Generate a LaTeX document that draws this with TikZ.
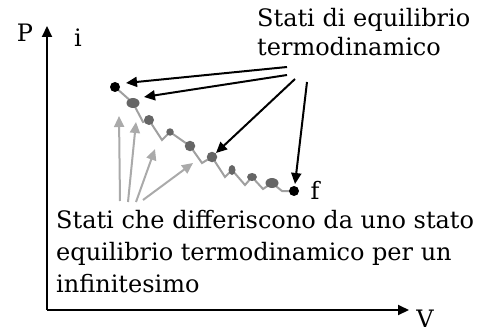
\documentclass[tikz,border=0pt]{standalone}
\usepackage{fontspec}
\setmainfont{DejaVu Serif}
\usetikzlibrary{arrows.meta,shapes.geometric}
\definecolor{dotgray}{HTML}{666666}
\definecolor{linegray}{HTML}{A0A0A0}
\definecolor{arrgray}{HTML}{AAAAAA}
\tikzset{
  axis/.style={line width=2pt,-{Triangle[length=11pt,width=10pt]}},
  blackarrow/.style={line width=2pt,-{Triangle[length=11pt,width=10pt]}},
  grayarrow/.style={line width=2pt,arrgray,-{Triangle[length=11pt,width=10pt]}},
  pathline/.style={line width=2pt,linegray},
  eqdot/.style={circle,fill=black,inner sep=0pt,minimum size=10pt},
  gdot/.style={ellipse,fill=dotgray,inner sep=0pt},
  lbl/.style={font=\fontsize{24}{24}\selectfont,inner sep=0pt},
  txt/.style={font=\fontsize{24}{29}\selectfont,inner sep=0pt,align=left,anchor=base west}
}
\begin{document}
\begin{tikzpicture}[x=1pt,y=-1pt]
\useasboundingbox (0,0) rectangle (481,334);
% axes
\coordinate (O) at (47,310);
\coordinate (ytip) at (47,26);
\coordinate (xtip) at (409,310);
\draw[axis] (O) -- (ytip);
\draw[axis] (O) -- (xtip);
\node[lbl] (P) at (25,33) {P};
\node[lbl] (i) at (78,38) {i};
\node[lbl] (V) at (425,319) {V};
\node[lbl] (f) at (315,190) {f};
% path
\draw[pathline] (115,87) -- (133,103) -- (143,122) -- (149,120) -- (162,140) -- (170,132)
  -- (190,146) -- (202,163) -- (212,157) -- (225,177) -- (232,170) -- (245,185)
  -- (252,177) -- (263,189) -- (272,183) -- (282,191) -- (294,191);
\node[eqdot] (si) at (115,87) {};
\node[gdot,minimum width=13pt,minimum height=10pt] (g1) at (133,103) {};
\node[gdot,minimum width=10pt,minimum height=10pt] (g2) at (149,120) {};
\node[gdot,minimum width=7.5pt,minimum height=7.5pt] (g3) at (170,132) {};
\node[gdot,minimum width=10.5pt,minimum height=10.5pt] (g4) at (190,146) {};
\node[gdot,minimum width=10.5pt,minimum height=10.5pt] (g5) at (212,157) {};
\node[gdot,minimum width=7pt,minimum height=10pt] (g6) at (232,170) {};
\node[gdot,minimum width=10pt,minimum height=8pt] (g7) at (252,177) {};
\node[gdot,minimum width=13pt,minimum height=10pt] (g8) at (272,183) {};
\node[eqdot] (sf) at (294,191) {};
% texts
\node[txt] (top) at (257,56) {Stati di equilibrio\\termodinamico};
\node[txt,font=\fontsize{24}{32}\selectfont] (bot) at (56,292) {Stati che differiscono da uno stato\\equilibrio termodinamico per un\\infinitesimo};
% black arrows
\coordinate (b1s) at (287,67);
\coordinate (b1e) at (126,83);
\coordinate (b2s) at (287,75);
\coordinate (b2e) at (144,97);
\coordinate (b3s) at (295,79);
\coordinate (b3e) at (216,153);
\coordinate (b4s) at (307,82);
\coordinate (b4e) at (295,184);
\draw[blackarrow] (b1s) -- (b1e);
\draw[blackarrow] (b2s) -- (b2e);
\draw[blackarrow] (b3s) -- (b3e);
\draw[blackarrow] (b4s) -- (b4e);
% gray arrows
\coordinate (a1s) at (120,201);
\coordinate (a1e) at (119,116);
\coordinate (a2s) at (128,202);
\coordinate (a2e) at (136,122);
\coordinate (a3s) at (136,202);
\coordinate (a3e) at (155,149);
\coordinate (a4s) at (143,200);
\coordinate (a4e) at (193,163);
\draw[grayarrow] (a1s) -- (a1e);
\draw[grayarrow] (a2s) -- (a2e);
\draw[grayarrow] (a3s) -- (a3e);
\draw[grayarrow] (a4s) -- (a4e);
\end{tikzpicture}
\end{document}
